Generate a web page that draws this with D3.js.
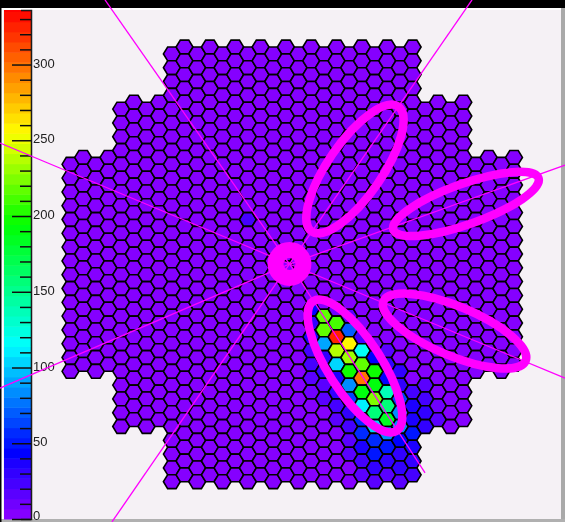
<!DOCTYPE html>
<html>
<head>
<meta charset="utf-8">
<script src="https://cdn.jsdelivr.net/npm/d3@7"></script>
<style>
  html, body { margin: 0; padding: 0; background: #fff; }
  svg { display: block; }
</style>
</head>
<body>
<svg width="565" height="522"></svg>
<script>
// camera outline: first and last row of each column block
const blockCols = [[0, 3], [4, 7], [8, 27], [28, 31], [32, 35]];
const blockFirstRow = [8, 4, 0, 4, 8];
const blockLastRow = [23, 27, 31, 27, 23];

// cells with signal, all the others read 0
const hotCol = [
  20, 20, 20, 21, 21, 21, 21, 22, 22, 22, 22, 22, 22, 22,
  23, 23, 23, 23, 23, 23, 23, 23, 23, 23, 23,
  24, 24, 24, 24, 24, 24, 24, 24, 24, 24,
  25, 25, 25, 25, 25, 25, 25, 25, 25, 25,
  26, 26, 26, 26, 26, 26, 26, 26, 26,
  27, 27, 27, 27, 27, 27, 27,
  28, 28, 28, 28, 29, 29,
  19, 19, 19, 19, 19, 19, 19,
  20, 20, 20, 20, 21, 21, 21, 21, 21,
  22, 22, 22, 22, 14
];
const hotRow = [
  19, 20, 21, 20, 21, 22, 23, 20, 21, 22, 23, 24, 25, 26,
  22, 23, 24, 25, 26, 27, 28, 29, 30, 31, 21,
  23, 24, 25, 26, 27, 28, 29, 30, 31, 22,
  25, 26, 27, 28, 29, 30, 31, 24, 23, 22,
  26, 25, 27, 28, 24, 23, 29, 30, 31,
  26, 27, 28, 29, 30, 31, 25,
  27, 26, 25, 24, 27, 26,
  19, 20, 21, 22, 23, 24, 25,
  22, 23, 24, 25, 24, 25, 26, 27, 19,
  27, 28, 29, 19, 12
];
const hotVal = [
  220, 215, 88, 210, 328, 240, 102, 70, 260, 233, 198, 85, 62, 32,
  115, 218, 295, 192, 110, 60, 55, 40, 26, 14, 22,
  195, 190, 225, 160, 107, 58, 50, 32, 16, 45,
  140, 160, 185, 85, 48, 32, 18, 45, 32, 16,
  85, 65, 85, 45, 32, 27, 32, 29, 16,
  40, 40, 48, 40, 30, 22, 24,
  32, 27, 22, 20, 16, 13,
  45, 32, 35, 24, 22, 16, 12,
  30, 30, 20, 15, 34, 32, 24, 15, 12,
  26, 18, 14, 16, 25
];

// colour bar
const paletteStops = [0, 45, 115, 195, 255, 335];
const paletteColors = ["#9000ff", "#0000ff", "#00ffff", "#00ff00", "#ffff00", "#ff0000"];
const barTicks = d3.range(0, 331, 10);
const barLabels = [0, 50, 100, 150, 200, 250, 300];
const bandWidth = 6.7;

// fit ellipses, camera degrees, angle counter clockwise from +x
const ellipseX = [0.495, 1.371, 1.281, 0.495];
const ellipseY = [0.742, 0.466, -0.537, -0.813];
const ellipseA = [0.60, 0.608, 0.608, 0.608];
const ellipseB = [0.213, 0.16, 0.195, 0.21];
const ellipseAngle = [55.3, 19.6, -22.7, -57.3];

// rays going out of the camera centre
const centreX = -0.022;
const centreY = -0.008;
const rayEndX = [-1.478, 1.419, 2.153, 2.153, 1.048, -1.423, -2.307, -2.307];
const rayEndY = [2.076, 2.076, 0.773, -0.908, -1.657, -2.044, -0.987, 0.947];

const svg = d3.select("svg");

// page frame
const defs = svg.append("defs");
defs.append("filter").attr("id", "soft")
  .append("feGaussianBlur").attr("stdDeviation", 0.55);

const root = svg.append("g").attr("filter", "url(#soft)");

root.append("rect").attr("width", 565).attr("height", 522).attr("fill", "#ffffff");
root.append("rect").attr("x", 3).attr("y", 10).attr("width", 558).attr("height", 509).attr("fill", "#f5f1f5");
root.append("rect").attr("x", 561).attr("y", 8).attr("width", 4).attr("height", 514).attr("fill", "#a9a9a9");
root.append("rect").attr("x", 0).attr("y", 519).attr("width", 565).attr("height", 3).attr("fill", "#b0b0b0");
root.append("rect").attr("x", 0).attr("y", 8).attr("width", 1.5).attr("height", 514).attr("fill", "#000000");
root.append("rect").attr("width", 565).attr("height", 8).attr("fill", "#000000");

// scales
const colX = d3.scaleLinear().domain([0, 35]).range([70.5, 514]);
const rowY = d3.scaleLinear().domain([0, 31]).range([47, 474.8]);
const camX = d3.scaleLinear().domain([-1, 1]).range([292.25 - 126.7, 292.25 + 126.7]);
const camY = d3.scaleLinear().domain([-1, 1]).range([263 + 126.7, 263 - 126.7]);
const pxPerDeg = camX(1) - camX(0);

const ramp = d3.scaleLinear().domain(paletteStops).range(paletteColors).clamp(true);
const colorOf = v => ramp((Math.floor(v / bandWidth) + 0.5) * bandWidth);
const valueY = d3.scaleLinear().domain([0, 336]).range([519, 10]);

// cells
const hotLookup = new Map(hotCol.map((c, i) => [c + "_" + hotRow[i], hotVal[i]]));
const cells = [];
blockCols.forEach((span, b) => {
  d3.range(span[0], span[1] + 1).forEach(col => {
    d3.range(blockFirstRow[b], blockLastRow[b] + 1).forEach(row => {
      cells.push({ col, row, value: hotLookup.get(col + "_" + row) || 0 });
    });
  });
});

const cellR = (colX(1) - colX(0)) / 1.5;
const cellH = (rowY(1) - rowY(0)) / 2;
const hexPath = d3.line()([
  [-cellR, 0], [-cellR / 2, -cellH], [cellR / 2, -cellH],
  [cellR, 0], [cellR / 2, cellH], [-cellR / 2, cellH]
]) + "Z";

root.append("g")
  .attr("id", "camera")
  .selectAll("path")
  .data(cells)
  .join("path")
  .attr("d", hexPath)
  .attr("transform", d => {
    // even columns sit half a row lower
    const y = rowY(d.col % 2 === 0 ? d.row + 0.5 : d.row);
    return `translate(${colX(d.col)},${y})`;
  })
  .style("fill", d => colorOf(d.value))
  .style("stroke", "#000")
  .style("stroke-width", 1.6);

// colour bar
const bands = d3.range(0, 336, bandWidth);
root.append("g")
  .attr("id", "bar")
  .selectAll("rect")
  .data(bands)
  .join("rect")
  .attr("x", 4)
  .attr("width", 27)
  .attr("y", d => valueY(Math.min(d + bandWidth, 336)))
  .attr("height", d => valueY(d) - valueY(Math.min(d + bandWidth, 336)) + 0.5)
  .style("fill", d => ramp(d + bandWidth / 2));

const axis = d3.axisRight(valueY)
  .tickValues(barTicks)
  .tickSize(-10)
  .tickPadding(2)
  .tickFormat(d => barLabels.includes(d) ? d : "");

const axisG = root.append("g")
  .attr("id", "bar-axis")
  .attr("transform", "translate(31,0)")
  .call(axis);

axisG.select(".domain").attr("stroke", "#1a1a1a").attr("stroke-width", 1.5);
axisG.selectAll(".tick line")
  .attr("x2", d => barLabels.includes(d) ? -19 : -11)
  .attr("stroke", "#111")
  .attr("stroke-width", 1.5);
axisG.selectAll(".tick text")
  .attr("fill", "#222")
  .attr("dy", d => d === 0 ? "0" : "0.2em")
  .style("font-family", "'Liberation Sans', Arial, sans-serif")
  .style("font-size", "13px");

// rays
root.append("g")
  .attr("id", "rays")
  .selectAll("line")
  .data(rayEndX.map((x, i) => [x, rayEndY[i]]))
  .join("line")
  .attr("x1", camX(centreX))
  .attr("y1", camY(centreY))
  .attr("x2", d => camX(d[0]))
  .attr("y2", d => camY(d[1]))
  .style("stroke", "#ff00ff")
  .style("stroke-width", 1.3);

// ellipses
root.append("g")
  .attr("id", "ellipses")
  .selectAll("ellipse")
  .data(ellipseX.map((x, i) => i))
  .join("ellipse")
  .attr("rx", i => ellipseA[i] * pxPerDeg)
  .attr("ry", i => ellipseB[i] * pxPerDeg)
  .attr("transform", i => `translate(${camX(ellipseX[i])},${camY(ellipseY[i])}) rotate(${-ellipseAngle[i]})`)
  .style("fill", "none")
  .style("stroke", "#ff00ff")
  .style("stroke-width", 8.5);

// ring at the centre
root.append("circle")
  .attr("cx", camX(centreX))
  .attr("cy", camY(centreY))
  .attr("r", 0.11 * pxPerDeg)
  .style("fill", "none")
  .style("stroke", "#ff00ff")
  .style("stroke-width", 16);
</script>
</body>
</html>
